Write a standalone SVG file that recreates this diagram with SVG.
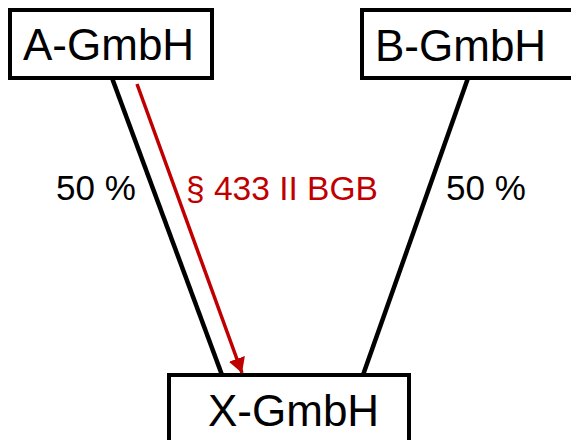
<svg xmlns="http://www.w3.org/2000/svg" width="571" height="440" viewBox="0 0 571 440">
<style>
.box{fill:#fff;stroke:#000;stroke-width:4}
.lbl{font-family:"Liberation Sans",Arial,sans-serif;font-size:44px;fill:#000}
.pct{font-family:"Liberation Sans",Arial,sans-serif;font-size:35px;fill:#000}
.red{font-family:"Liberation Sans",Arial,sans-serif;font-size:33.5px;fill:#C00000}
.line{stroke:#000;stroke-width:4.5;fill:none}
</style>
<defs>
<marker id="ah" markerUnits="userSpaceOnUse" markerWidth="20" markerHeight="18" refX="15" refY="8.5" orient="auto">
<path d="M0,0 L15,8.5 L0,17 Z" fill="#C00000"/>
</marker>
</defs>
<g id="connectors">
<line class="line" x1="112" y1="78" x2="222" y2="375"/>
<line class="line" x1="468" y1="78" x2="363" y2="375"/>
<line x1="137" y1="84" x2="242" y2="373" stroke="#C00000" stroke-width="3.5" marker-end="url(#ah)"/>
</g>
<g id="A-GmbH">
<rect class="box" x="10" y="10" width="202" height="68"/>
<text class="lbl" x="23" y="60">A-GmbH</text>
</g>
<g id="B-GmbH">
<rect class="box" x="362" y="10" width="240" height="68"/>
<text class="lbl" x="375" y="61">B-GmbH</text>
</g>
<g id="X-GmbH">
<rect class="box" x="169" y="375" width="240" height="80"/>
<text class="lbl" x="208" y="426">X-GmbH</text>
</g>
<g id="labels">
<text class="pct" x="56" y="200">50 %</text>
<text class="pct" x="446" y="200">50 %</text>
<text class="red" x="186" y="200">§ 433 II BGB</text>
</g>
</svg>
